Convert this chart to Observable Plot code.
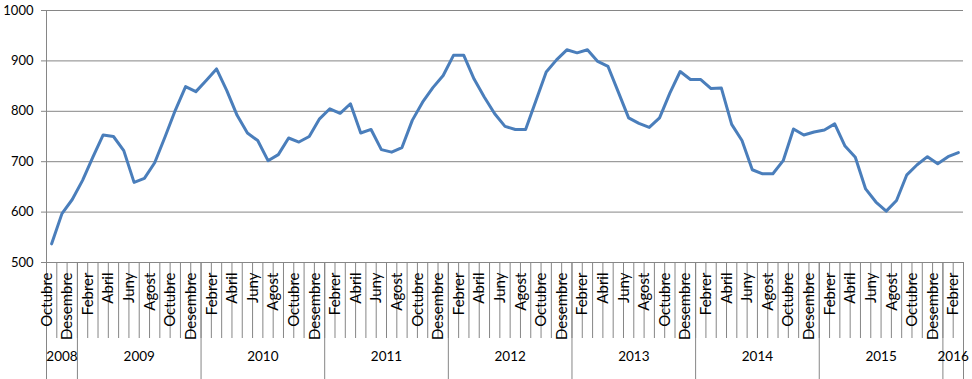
<!DOCTYPE html>
<html><head><meta charset="utf-8">
<script src="https://cdn.jsdelivr.net/npm/d3@7"></script>
<script src="https://cdn.jsdelivr.net/npm/@observablehq/plot@0.6"></script>
<style>body{margin:0;background:#fff}</style>
</head><body><div id="chart"></div>
<script>
const monthNames = ["Gener","Febrer","Març","Abril","Maig","Juny","Juliol","Agost","Setembre","Octubre","Novembre","Desembre"];
const firstMonth = 9; // Octubre 2008
const values = [
  537, 597, 625,
  663, 709, 753, 750, 722, 659, 667, 698, 749, 802, 849, 839,
  861, 884, 841, 792, 757, 742, 702, 714, 747, 739, 750, 785,
  805, 796, 815, 757, 764, 724, 719, 728, 782, 818, 847, 871,
  911, 911, 864, 828, 795, 770, 764, 764, 821, 878, 902, 922,
  916, 922, 899, 889, 838, 787, 776, 768, 787, 836, 879, 863,
  863, 845, 846, 774, 742, 684, 676, 676, 702, 765, 753, 759,
  763, 775, 731, 709, 646, 620, 602, 623, 674, 694, 710, 696,
  710, 718
];
const years = [2008, 2009, 2010, 2011, 2012, 2013, 2014, 2015, 2016];
const monthsPerYear = [3, 12, 12, 12, 12, 12, 12, 12, 2];
const yTicks = [500, 600, 700, 800, 900, 1000];

const data = values.map((v, i) => ({i, v, month: monthNames[(firstMonth + i) % 12]}));
const labeled = data.filter(d => d.i % 2 === 0);
let acc = 0;
const yearSpans = years.map((y, k) => { const s = acc; acc += monthsPerYear[k]; return {year: String(y), start: s, end: acc}; });
const boundaries = [0, ...yearSpans.map(d => d.end)];

const gray = "#868686";
const chart = Plot.plot({
  width: 972, height: 379,
  marginLeft: 46, marginRight: 9, marginTop: 10, marginBottom: 117,
  style: {fontFamily: "Lato, sans-serif", fontSize: "13px", color: "#000", background: "#fff"},
  x: {type: "linear", domain: [0, values.length], axis: null},
  y: {domain: [500, 1000], axis: null},
  marks: [
    Plot.gridY(yTicks, {stroke: gray, strokeOpacity: 1}),
    Plot.axisY(yTicks, {tickSize: 5, tickPadding: 8, stroke: gray, fill: "#000", fontSize: 13, tickFormat: d => String(d), label: null}),
    Plot.ruleX([0], {stroke: gray}),
    Plot.axisX(d3.range(0, values.length + 1), {tickSize: 76, tickFormat: () => "", stroke: gray, label: null}),
    Plot.axisX(boundaries, {tickSize: 117, tickFormat: () => "", stroke: gray, label: null}),
    Plot.lineY(data, {x: d => d.i + 0.5, y: "v", stroke: "#4a7ebb", strokeWidth: 3}),
    Plot.text(labeled, {x: d => d.i + 0.5, text: "month", frameAnchor: "bottom", dy: 10, rotate: -90, textAnchor: "end", fontSize: 15, fill: "#000"}),
    Plot.text(yearSpans, {x: d => (d.start + d.end) / 2, text: "year", frameAnchor: "bottom", dy: 98, fontSize: 13.5, fill: "#000"})
  ]
});
document.getElementById("chart").appendChild(chart);
</script>
</body></html>
